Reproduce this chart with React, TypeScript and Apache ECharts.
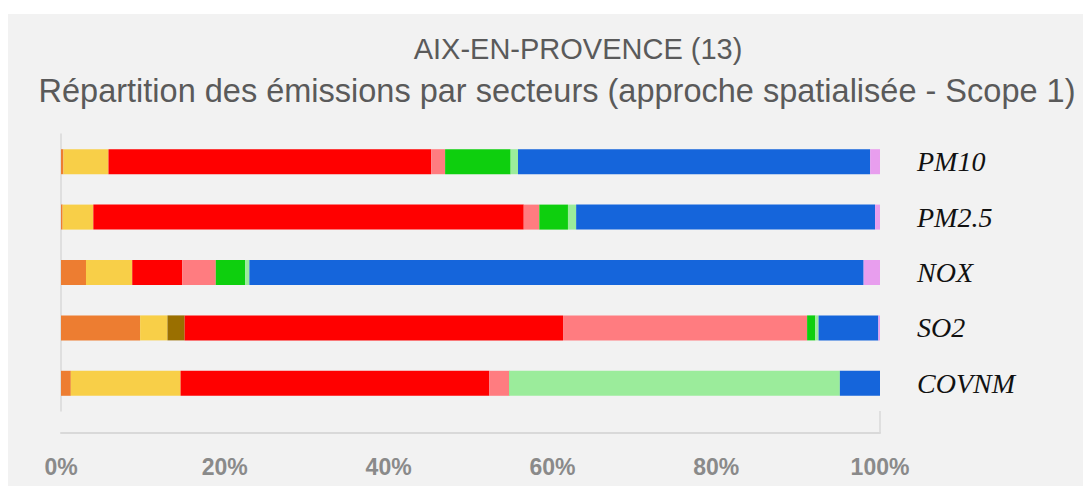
import React, { useEffect, useRef } from "react";
import * as echarts from "echarts";

const categories = ["PM10", "PM2.5", "NOX", "SO2", "COVNM"];
const tickLabelSuffix = "%";

const sectorNames = [
  "Production et distribution d'énergie",
  "Industrie",
  "Traitement des déchets",
  "Résidentiel",
  "Tertiaire",
  "Agriculture",
  "Nature",
  "Transport routier",
  "Autres transports",
];
const energie = [0.3, 0.2, 3.05, 9.66, 1.2];
const industrie = [5.5, 3.75, 5.65, 3.34, 13.4];
const dechets = [0, 0, 0, 2.1, 0];
const residentiel = [39.4, 52.55, 6.1, 46.2, 37.7];
const tertiaire = [1.7, 1.9, 4.1, 29.8, 2.4];
const agriculture = [8.0, 3.5, 3.6, 1.0, 0.05];
const nature = [0.9, 1.0, 0.5, 0.4, 40.35];
const routier = [43.0, 36.5, 75.0, 7.3, 4.9];
const autresTransports = [1.2, 0.6, 2.0, 0.2, 0];

const seriesValues = [energie, industrie, dechets, residentiel, tertiaire, agriculture, nature, routier, autresTransports];
const colors = ["#ED7D31", "#F8CF48", "#9A6F00", "#FF0000", "#FF7C80", "#0ECF0E", "#9BEC9B", "#1565DB", "#E89EEE"];

export default function App() {
  const ref = useRef<HTMLDivElement>(null);
  useEffect(() => {
    if (!ref.current) return;
    const chart = echarts.init(ref.current, null, { renderer: "svg" });
    chart.setOption({
      animation: false,
      backgroundColor: "transparent",
      graphic: [
        {
          type: "text",
          x: 570,
          y: 35,
          style: {
            text: "AIX-EN-PROVENCE (13)",
            fill: "#5a5a5a",
            font: "29px 'Liberation Sans', Arial, sans-serif",
            textAlign: "center",
            textVerticalAlign: "middle",
          },
        },
        {
          type: "text",
          x: 549,
          y: 77,
          style: {
            text: "Répartition des émissions par secteurs (approche spatialisée - Scope 1)",
            fill: "#5a5a5a",
            font: "32.5px 'Liberation Sans', Arial, sans-serif",
            textAlign: "center",
            textVerticalAlign: "middle",
          },
        },
        {
          type: "line",
          shape: { x1: 872, y1: 397, x2: 872, y2: 419 },
          style: { stroke: "#d9d9d9", lineWidth: 1.5 },
        },
      ],
      grid: { left: 53, right: 203, top: 120, bottom: 75 },
      xAxis: {
        type: "value",
        min: 0,
        max: 100,
        interval: 20,
        offset: 22,
        axisLine: { show: true, lineStyle: { color: "#d9d9d9", width: 2 } },
        axisTick: { show: false },
        splitLine: { show: false },
        axisLabel: {
          margin: 22,
          fontSize: 23,
          fontWeight: "bold",
          color: "#8a8a8a",
          fontFamily: "'Liberation Sans', Arial, sans-serif",
          formatter: (v: number) => v + tickLabelSuffix,
        },
      },
      yAxis: {
        type: "category",
        data: categories,
        inverse: true,
        position: "right",
        axisLine: { show: true, lineStyle: { color: "#d9d9d9", width: 1.5 } },
        axisTick: { show: false },
        axisLabel: {
          margin: 37,
          fontSize: 28,
          fontStyle: "italic",
          color: "#111",
          fontFamily: "'Liberation Serif', 'Times New Roman', serif",
        },
      },
      series: seriesValues.map((vals, i) => ({
        type: "bar",
        name: sectorNames[i],
        stack: "total",
        barWidth: 25,
        data: vals,
        itemStyle: { color: colors[i] },
      })),
    });
    return () => chart.dispose();
  }, []);
  return (
    <div style={{ position: "fixed", left: 0, top: 0, width: 1083, height: 486, background: "#fff" }}>
      <div
        ref={ref}
        style={{ position: "absolute", left: 8, top: 14, width: 1075, height: 472, background: "#f2f2f2" }}
      />
    </div>
  );
}
